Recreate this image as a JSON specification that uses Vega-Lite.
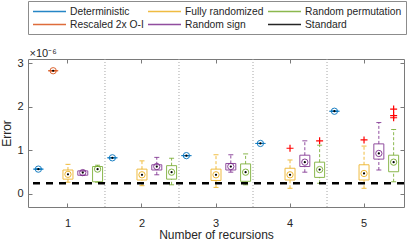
{
 "$schema": "https://vega.github.io/schema/vega-lite/v6.json",
 "width": 376, "height": 148,
 "autosize": {"type": "none"},
 "padding": {"left": 28, "top": 59, "right": 4, "bottom": 36},
 "background": "white",
 "config": {
  "font": "Liberation Sans",
  "view": {"stroke": "#7a7a7a", "strokeWidth": 1},
  "axis": {"domain": false, "grid": false, "tickSize": -4, "tickColor": "#7a7a7a", "labelFontSize": 11, "labelColor": "#262626", "titleFontSize": 12, "titleFontWeight": "normal", "titleColor": "#262626", "labelFont": "Liberation Sans", "titleFont": "Liberation Sans"}
 },
 "datasets": {
  "boxes": [
   {"rec": 1, "method": "Deterministic", "wlo": 0.57e-6, "q1": 0.57e-6, "median": 0.57e-6, "q3": 0.57e-6, "whi": 0.57e-6},
   {"rec": 1, "method": "Rescaled 2x O-I", "wlo": 2.83e-6, "q1": 2.83e-6, "median": 2.83e-6, "q3": 2.83e-6, "whi": 2.83e-6},
   {"rec": 1, "method": "Fully randomized", "wlo": 0.27e-6, "q1": 0.34e-6, "median": 0.45e-6, "q3": 0.55e-6, "whi": 0.68e-6},
   {"rec": 1, "method": "Random sign", "wlo": 0.43e-6, "q1": 0.43e-6, "median": 0.49e-6, "q3": 0.53e-6, "whi": 0.53e-6},
   {"rec": 1, "method": "Random permutation", "wlo": 0.27e-6, "q1": 0.28e-6, "median": 0.57e-6, "q3": 0.63e-6, "whi": 0.66e-6},
   {"rec": 2, "method": "Deterministic", "wlo": 0.83e-6, "q1": 0.83e-6, "median": 0.83e-6, "q3": 0.83e-6, "whi": 0.83e-6},
   {"rec": 2, "method": "Fully randomized", "wlo": 0.19e-6, "q1": 0.32e-6, "median": 0.44e-6, "q3": 0.57e-6, "whi": 0.76e-6},
   {"rec": 2, "method": "Random sign", "wlo": 0.44e-6, "q1": 0.55e-6, "median": 0.63e-6, "q3": 0.67e-6, "whi": 0.84e-6},
   {"rec": 2, "method": "Random permutation", "wlo": 0.21e-6, "q1": 0.34e-6, "median": 0.50e-6, "q3": 0.65e-6, "whi": 0.82e-6},
   {"rec": 3, "method": "Deterministic", "wlo": 0.88e-6, "q1": 0.88e-6, "median": 0.88e-6, "q3": 0.88e-6, "whi": 0.88e-6},
   {"rec": 3, "method": "Fully randomized", "wlo": 0.15e-6, "q1": 0.31e-6, "median": 0.44e-6, "q3": 0.57e-6, "whi": 0.90e-6},
   {"rec": 3, "method": "Random sign", "wlo": 0.50e-6, "q1": 0.55e-6, "median": 0.63e-6, "q3": 0.70e-6, "whi": 0.90e-6},
   {"rec": 3, "method": "Random permutation", "wlo": 0.21e-6, "q1": 0.29e-6, "median": 0.50e-6, "q3": 0.69e-6, "whi": 0.92e-6},
   {"rec": 4, "method": "Deterministic", "wlo": 1.16e-6, "q1": 1.16e-6, "median": 1.16e-6, "q3": 1.16e-6, "whi": 1.16e-6},
   {"rec": 4, "method": "Fully randomized", "wlo": 0.13e-6, "q1": 0.32e-6, "median": 0.44e-6, "q3": 0.59e-6, "whi": 0.78e-6},
   {"rec": 4, "method": "Random sign", "wlo": 0.50e-6, "q1": 0.63e-6, "median": 0.73e-6, "q3": 0.89e-6, "whi": 1.22e-6},
   {"rec": 4, "method": "Random permutation", "wlo": 0.245e-6, "q1": 0.38e-6, "median": 0.56e-6, "q3": 0.73e-6, "whi": 1.12e-6},
   {"rec": 5, "method": "Deterministic", "wlo": 1.90e-6, "q1": 1.90e-6, "median": 1.90e-6, "q3": 1.90e-6, "whi": 1.90e-6},
   {"rec": 5, "method": "Fully randomized", "wlo": 0.13e-6, "q1": 0.32e-6, "median": 0.47e-6, "q3": 0.67e-6, "whi": 1.10e-6},
   {"rec": 5, "method": "Random sign", "wlo": 0.55e-6, "q1": 0.80e-6, "median": 0.93e-6, "q3": 1.15e-6, "whi": 1.64e-6},
   {"rec": 5, "method": "Random permutation", "wlo": 0.28e-6, "q1": 0.51e-6, "median": 0.73e-6, "q3": 0.89e-6, "whi": 1.48e-6}
  ],
  "outliers": [
   {"rec": 4, "method": "Fully randomized", "value": 1.05e-6},
   {"rec": 4, "method": "Random permutation", "value": 1.22e-6},
   {"rec": 5, "method": "Fully randomized", "value": 1.24e-6},
   {"rec": 5, "method": "Random permutation", "value": 1.95e-6},
   {"rec": 5, "method": "Random permutation", "value": 1.80e-6},
   {"rec": 5, "method": "Random permutation", "value": 1.75e-6}
  ],
  "standard": [{"method": "Standard", "value": 0.245e-6}],
  "separators": [{"rec": 2}, {"rec": 3}, {"rec": 4}, {"rec": 5}]
 },
 "resolve": {"axis": {"x": "independent", "y": "independent"}},
 "layer": [
  {
   "data": {"name": "separators"},
   "mark": {"type": "rule", "color": "#a6a6a6", "strokeDash": [1, 2], "strokeWidth": 1},
   "encoding": {
    "x": {"field": "rec", "type": "ordinal", "bandPosition": 0, "scale": {"type": "band", "domain": [1, 2, 3, 4, 5], "paddingInner": 0, "paddingOuter": 0.04}, "axis": null}
   }
  },
  {
   "data": {"name": "boxes"},
   "mark": {"type": "rule", "strokeDash": [3, 2], "strokeWidth": 1, "opacity": 0.85},
   "encoding": {
    "x": {"field": "rec", "type": "ordinal", "scale": {"type": "band", "domain": [1, 2, 3, 4, 5], "paddingInner": 0, "paddingOuter": 0.04}, "axis": {"orient": "bottom", "title": "Number of recursions", "labelAngle": 0, "labelPadding": 14, "titlePadding": 1}},
    "xOffset": {"field": "method", "type": "nominal", "scale": {"domain": ["Deterministic", "Rescaled 2x O-I", "Fully randomized", "Random sign", "Random permutation"], "paddingInner": 0, "paddingOuter": 0}},
    "y": {"field": "q3", "type": "quantitative", "scale": {"domain": [-0.3e-6, 3.1e-6], "nice": false, "zero": false}, "axis": {"orient": "left", "title": "Error", "values": [0, 1e-6, 2e-6, 3e-6], "labelExpr": "format(datum.value*1e6,'d')", "labelPadding": 9, "titlePadding": 3}},
    "y2": {"field": "whi"},
    "color": {"field": "method", "type": "nominal", "scale": {"domain": ["Deterministic", "Fully randomized", "Random permutation", "Rescaled 2x O-I", "Random sign", "Standard"], "range": ["#0072BD", "#EDB120", "#77AC30", "#D95319", "#7E2F8E", "#000000"]}, "legend": {"title": null, "orient": "none", "legendX": 0, "legendY": -58, "direction": "horizontal", "columns": 3, "symbolType": "M-1,0L5,0", "symbolSize": 121, "labelFontSize": 10.3, "labelColor": "#262626", "labelOffset": 25, "columnPadding": 1, "rowPadding": 1, "padding": 4, "strokeColor": "#8c8c8c", "fillColor": "white", "encode": {"symbols": {"update": {"stroke": {"scale": "color", "field": "value"}, "strokeOpacity": {"signal": "datum.value === 'Standard' ? 1 : 0.6"}, "strokeWidth": {"signal": "datum.value === 'Standard' ? 2.5 : 1"}, "strokeDash": {"signal": "datum.value === 'Standard' ? [8, 5] : [1, 0]"}}}}}}
   }
  },
  {
   "data": {"name": "boxes"},
   "mark": {"type": "rule", "strokeDash": [3, 2], "strokeWidth": 1, "opacity": 0.85},
   "encoding": {
    "x": {"field": "rec", "type": "ordinal", "axis": null},
    "xOffset": {"field": "method", "type": "nominal"},
    "y": {"field": "wlo", "type": "quantitative", "axis": null},
    "y2": {"field": "q1"},
    "color": {"field": "method", "type": "nominal"}
   }
  },
  {
   "data": {"name": "boxes"},
   "mark": {"type": "tick", "size": 5, "thickness": 1, "opacity": 0.85},
   "encoding": {
    "x": {"field": "rec", "type": "ordinal", "axis": null},
    "xOffset": {"field": "method", "type": "nominal"},
    "y": {"field": "whi", "type": "quantitative", "axis": null},
    "color": {"field": "method", "type": "nominal"}
   }
  },
  {
   "data": {"name": "boxes"},
   "mark": {"type": "tick", "size": 5, "thickness": 1, "opacity": 0.85},
   "encoding": {
    "x": {"field": "rec", "type": "ordinal", "axis": null},
    "xOffset": {"field": "method", "type": "nominal"},
    "y": {"field": "wlo", "type": "quantitative", "axis": null},
    "color": {"field": "method", "type": "nominal"}
   }
  },
  {
   "data": {"name": "boxes"},
   "mark": {"type": "bar", "filled": false, "strokeWidth": 1, "width": 10, "opacity": 0.85},
   "encoding": {
    "x": {"field": "rec", "type": "ordinal", "axis": null},
    "xOffset": {"field": "method", "type": "nominal"},
    "y": {"field": "q1", "type": "quantitative", "axis": null},
    "y2": {"field": "q3"},
    "color": {"field": "method", "type": "nominal"}
   }
  },
  {
   "data": {"name": "boxes"},
   "mark": {"type": "point", "filled": false, "size": 40, "strokeWidth": 1, "opacity": 0.9},
   "encoding": {
    "x": {"field": "rec", "type": "ordinal", "axis": null},
    "xOffset": {"field": "method", "type": "nominal"},
    "y": {"field": "median", "type": "quantitative", "axis": null},
    "color": {"field": "method", "type": "nominal"}
   }
  },
  {
   "data": {"name": "boxes"},
   "mark": {"type": "point", "filled": true, "size": 5, "color": "#000000", "opacity": 1},
   "encoding": {
    "x": {"field": "rec", "type": "ordinal", "axis": null},
    "xOffset": {"field": "method", "type": "nominal"},
    "y": {"field": "median", "type": "quantitative", "axis": null}
   }
  },
  {
   "data": {"name": "outliers"},
   "mark": {"type": "point", "shape": "M-1,0L1,0M0,-1L0,1", "filled": false, "size": 49, "strokeWidth": 1.2, "color": "#ff0000", "opacity": 1},
   "encoding": {
    "x": {"field": "rec", "type": "ordinal", "axis": {"orient": "top", "labels": false, "title": "×10⁻⁶", "titleX": 1, "titleY": -3, "titleAlign": "left", "titleAnchor": "start", "titleBaseline": "alphabetic", "titleFontSize": 11, "titleAngle": 0}},
    "xOffset": {"field": "method", "type": "nominal"},
    "y": {"field": "value", "type": "quantitative", "axis": {"orient": "right", "labels": false, "title": null, "values": [0, 1e-6, 2e-6, 3e-6]}}
   }
  },
  {
   "data": {"name": "standard"},
   "mark": {"type": "rule", "strokeWidth": 2.5, "strokeDash": [7, 6]},
   "encoding": {
    "y": {"field": "value", "type": "quantitative", "axis": null},
    "color": {"field": "method", "type": "nominal"}
   }
  }
 ]
}
